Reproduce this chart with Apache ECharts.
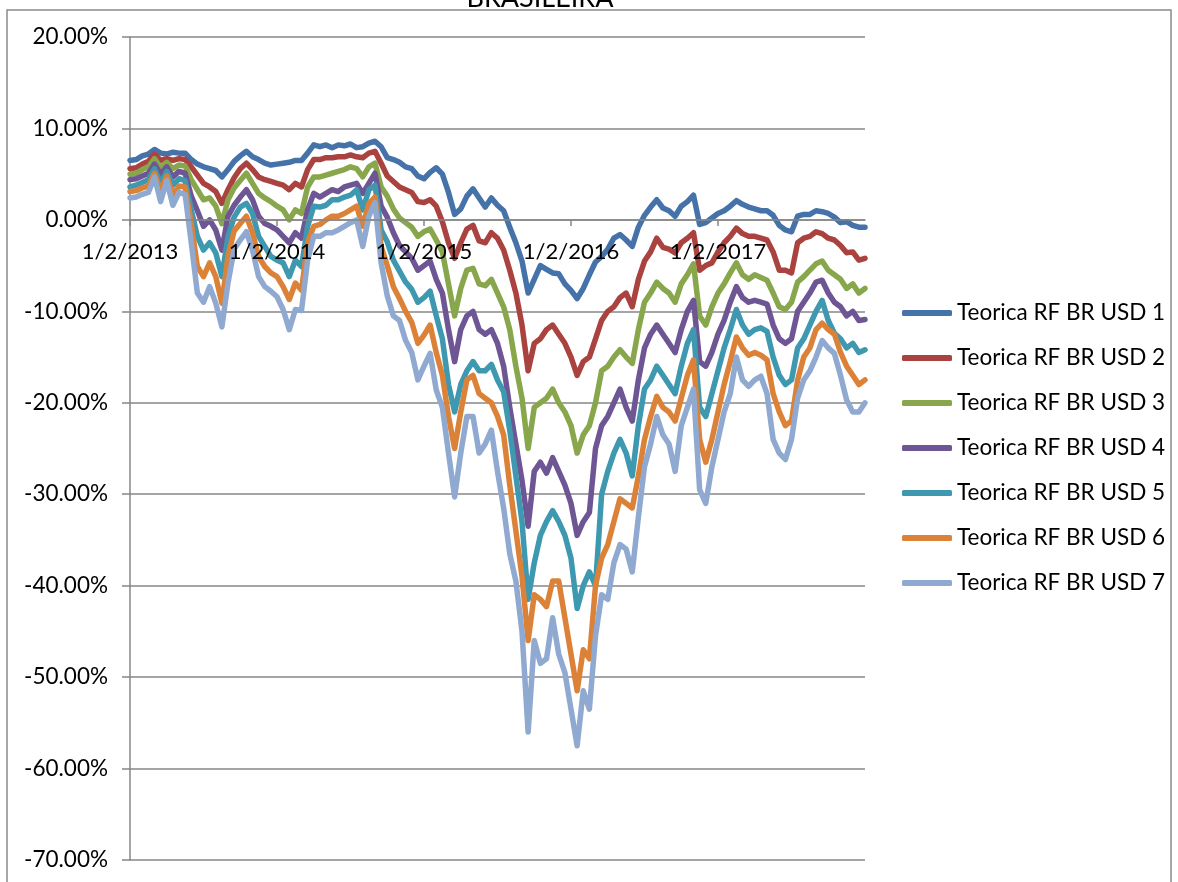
<!DOCTYPE html>
<html>
<head>
<meta charset="utf-8">
<script src="https://cdn.jsdelivr.net/npm/echarts@6/dist/echarts.min.js"></script>
<style>
  html, body { margin: 0; padding: 0; background: #ffffff; }
  #chart { width: 1178px; height: 882px; }
</style>
</head>
<body>
<div id="chart"></div>
<script>
// Semi-monthly observation dates, Jan 2013 to Dec 2017
const dates = [];
for (let y = 2013; y <= 2017; y++) {
  for (let m = 1; m <= 12; m++) {
    dates.push(m + '/2/' + y);
    dates.push(m + '/16/' + y);
  }
}
dates.push('12/29/2017');

const yearTicks = ['1/2/2013', '1/2/2014', '1/2/2015', '1/2/2016', '1/2/2017'];

const seriesNames = [
  'Teorica RF BR USD 1', 'Teorica RF BR USD 2', 'Teorica RF BR USD 3',
  'Teorica RF BR USD 4', 'Teorica RF BR USD 5', 'Teorica RF BR USD 6',
  'Teorica RF BR USD 7'
];

// Cumulative returns in percent
const usd1 = [6.5,6.6,7.0,7.2,7.7,7.3,7.2,7.4,7.3,7.3,6.6,6.1,5.8,5.6,5.4,4.7,5.5,6.4,7.0,7.5,
  6.9,6.6,6.2,6.0,6.1,6.2,6.3,6.5,6.5,7.3,8.2,8.0,8.2,7.9,8.2,8.1,8.3,7.9,8.0,8.4,
  8.6,8.0,6.8,6.6,6.3,5.8,5.6,4.8,4.5,5.2,5.7,5.0,3.0,0.6,1.2,2.6,3.4,2.4,1.4,2.4,
  1.6,1.0,-0.8,-2.5,-4.5,-8.0,-6.5,-5.0,-5.4,-5.8,-5.9,-7.0,-7.7,-8.6,-7.5,-6.0,-4.6,-4.0,-3.2,-2.0,
  -1.6,-2.2,-2.9,-0.8,0.5,1.4,2.2,1.3,1.0,0.4,1.5,2.0,2.7,-0.5,-0.3,0.2,0.7,1.0,1.5,2.1,
  1.7,1.4,1.2,1.0,1.0,0.5,-0.6,-1.1,-1.3,0.4,0.6,0.6,1.0,0.9,0.7,0.3,-0.3,-0.2,-0.6,-0.8,
  -0.8];
const usd2 = [5.6,5.7,6.1,6.4,7.2,6.5,6.7,6.5,6.7,6.6,5.8,4.9,4.0,3.6,3.1,1.8,3.3,4.6,5.6,6.2,
  5.5,4.7,4.4,4.2,4.0,3.8,3.3,4.0,3.6,5.5,6.6,6.6,6.8,6.8,6.9,6.9,7.1,6.9,6.8,7.3,
  7.5,6.2,4.8,4.2,3.6,3.3,3.0,2.0,1.9,2.2,1.5,-0.2,-2.5,-4.2,-2.5,-1.0,-0.6,-2.3,-2.5,-1.4,
  -2.0,-3.3,-5.5,-8.0,-11.5,-16.5,-13.5,-13.0,-12.0,-11.5,-12.5,-13.5,-15.0,-17.0,-15.5,-15.0,-13.0,-11.0,-10.0,-9.5,
  -8.5,-8.0,-9.5,-6.5,-4.5,-3.5,-2.0,-3.0,-3.2,-3.6,-2.5,-2.0,-1.4,-5.5,-5.0,-4.7,-3.5,-2.5,-1.8,-0.9,
  -1.5,-1.8,-1.8,-2.0,-2.2,-3.5,-5.5,-5.5,-5.8,-2.5,-2.0,-1.8,-1.3,-1.5,-2.0,-2.2,-2.8,-3.6,-3.5,-4.4,
  -4.2];
const usd3 = [5.0,5.1,5.5,5.8,6.7,5.7,6.3,5.6,6.0,5.9,4.4,3.3,2.2,2.4,1.5,-0.4,2.2,3.5,4.3,5.1,
  4.0,2.9,2.4,2.0,1.5,1.1,0.0,1.1,0.7,3.6,4.7,4.7,4.9,5.1,5.3,5.5,5.8,5.6,4.7,5.8,
  6.2,3.6,2.6,1.2,0.2,-0.3,-0.8,-1.8,-1.3,-1.0,-2.2,-3.5,-7.0,-10.5,-7.5,-5.5,-5.3,-7.0,-7.2,-6.5,
  -8.0,-9.5,-12.0,-16.0,-19.5,-25.0,-20.5,-20.0,-19.5,-18.5,-20.0,-21.0,-22.5,-25.5,-23.5,-22.5,-20.0,-16.5,-16.0,-15.0,
  -14.2,-15.0,-15.7,-12.0,-9.0,-8.0,-6.8,-7.5,-8.0,-9.0,-7.0,-6.0,-4.8,-10.5,-11.5,-9.5,-8.0,-7.0,-5.8,-4.7,
  -6.0,-6.5,-6.0,-6.3,-6.6,-8.0,-9.5,-9.8,-9.0,-6.8,-6.2,-5.5,-4.8,-4.5,-5.5,-6.0,-6.5,-7.5,-7.0,-8.0,
  -7.5];
const usd4 = [4.4,4.5,4.8,5.1,6.1,5.0,5.8,4.7,5.3,5.1,2.6,1.0,-0.7,0.0,-1.1,-3.3,0.4,1.6,2.5,3.3,
  2.2,0.4,-0.4,-0.7,-1.1,-1.8,-2.5,-1.4,-2.0,1.1,2.9,2.5,2.9,3.3,3.1,3.6,3.8,4.0,2.9,4.0,
  5.1,1.5,0.3,-1.4,-2.8,-3.5,-4.2,-5.5,-5.0,-4.5,-6.5,-8.0,-12.0,-15.5,-12.0,-10.5,-10.0,-12.0,-12.5,-12.0,
  -13.5,-16.0,-20.5,-24.5,-28.5,-33.5,-27.5,-26.5,-27.7,-26.0,-27.5,-29.0,-31.0,-34.5,-33.0,-32.0,-25.0,-22.5,-21.5,-20.0,
  -18.5,-20.5,-22.0,-17.5,-14.0,-12.5,-11.5,-12.5,-13.5,-14.5,-12.0,-10.0,-8.8,-15.5,-16.0,-14.5,-12.5,-11.0,-9.0,-7.3,
  -8.5,-9.0,-8.8,-9.0,-9.2,-11.5,-13.0,-13.5,-13.0,-10.0,-9.0,-8.0,-6.8,-6.6,-8.0,-9.0,-9.5,-10.5,-10.0,-11.0,
  -10.9];
const usd5 = [3.6,3.8,4.1,4.4,5.6,4.0,5.3,3.8,4.5,4.3,1.1,-1.8,-3.3,-2.5,-3.6,-6.2,-1.8,0.3,1.4,1.8,
  0.7,-1.8,-2.9,-4.0,-4.4,-4.7,-6.2,-4.4,-5.1,-0.7,1.5,1.4,1.6,2.2,2.2,2.5,2.7,3.3,1.1,3.3,
  3.8,-1.1,-2.4,-4.4,-5.6,-6.8,-7.6,-9.0,-8.5,-7.8,-10.5,-13.0,-18.0,-21.0,-18.0,-16.5,-15.5,-16.5,-16.5,-15.8,
  -17.5,-18.8,-23.0,-28.0,-33.0,-41.5,-37.5,-34.5,-33.0,-31.8,-33.0,-34.5,-37.0,-42.5,-40.0,-38.5,-40.0,-30.0,-27.5,-25.5,
  -24.0,-25.5,-28.0,-22.5,-18.5,-17.5,-16.0,-17.0,-18.0,-19.0,-16.0,-13.5,-12.0,-20.5,-21.5,-19.0,-16.5,-14.0,-12.0,-9.8,
  -11.5,-12.5,-12.0,-11.8,-12.2,-15.0,-17.0,-18.0,-17.5,-14.0,-13.0,-11.5,-10.0,-8.8,-11.0,-12.4,-13.0,-14.0,-13.5,-14.5,
  -14.2];
const usd6 = [3.1,3.2,3.5,3.7,5.1,3.2,4.8,2.8,3.7,3.6,-0.4,-5.1,-6.2,-4.7,-6.2,-9.1,-4.0,-1.2,-0.4,0.4,
  -1.4,-4.0,-5.1,-5.8,-6.2,-7.3,-8.7,-6.9,-7.7,-2.5,-0.7,-0.5,0.0,0.4,0.4,0.7,1.1,1.5,-0.7,1.8,
  2.5,-2.9,-5.0,-7.3,-8.6,-10.0,-11.2,-13.5,-12.6,-11.5,-14.5,-17.0,-21.5,-25.0,-21.0,-17.5,-17.0,-19.0,-19.5,-20.0,
  -21.5,-23.5,-29.0,-34.0,-39.0,-46.0,-41.0,-41.5,-42.3,-39.5,-39.5,-43.5,-47.5,-51.5,-47.0,-48.0,-40.0,-37.0,-35.5,-33.0,
  -30.5,-31.0,-31.5,-28.0,-24.0,-21.5,-19.3,-20.5,-21.0,-22.0,-19.5,-17.0,-15.3,-24.0,-26.5,-24.0,-21.0,-18.0,-15.5,-12.8,
  -14.0,-14.8,-14.5,-14.8,-15.3,-19.0,-21.0,-22.5,-22.0,-17.5,-15.0,-14.0,-12.0,-11.3,-12.0,-12.5,-14.5,-16.0,-17.0,-18.0,
  -17.5];
const usd7 = [2.4,2.5,2.8,3.0,4.7,2.0,4.3,1.6,3.0,2.8,-2.5,-8.0,-9.0,-7.3,-9.1,-11.7,-6.9,-3.2,-2.2,-1.3,
  -3.3,-6.2,-7.3,-7.8,-8.4,-9.8,-12.0,-9.8,-9.9,-4.4,-1.8,-1.8,-1.4,-1.4,-1.1,-0.7,-0.3,0.0,-2.9,0.4,
  1.9,-4.7,-8.3,-10.5,-11.0,-13.2,-14.5,-17.5,-16.0,-14.6,-18.6,-20.5,-25.5,-30.3,-25.5,-21.5,-21.5,-25.5,-24.5,-23.0,
  -27.5,-31.5,-36.5,-39.5,-45.0,-56.0,-46.0,-48.5,-48.0,-43.5,-47.5,-49.5,-53.5,-57.5,-51.5,-53.5,-45.5,-41.0,-41.5,-37.5,
  -35.5,-36.0,-38.5,-32.5,-27.0,-24.5,-21.5,-23.5,-24.5,-27.5,-22.5,-20.5,-18.5,-29.5,-31.0,-27.0,-24.0,-21.0,-19.0,-15.0,
  -17.5,-18.2,-17.5,-17.1,-19.0,-24.0,-25.5,-26.2,-24.0,-19.5,-17.5,-16.5,-15.0,-13.2,-14.0,-14.6,-17.0,-19.7,-21.0,-21.0,
  -20.0];

const seriesData = [usd1, usd2, usd3, usd4, usd5, usd6, usd7];
const colors = ['#4472A9', '#AA4340', '#88A64B', '#6E5593', '#3E98B0', '#DC8238', '#8FA9D0'];

const FONT = 'Lato, "Open Sans", sans-serif';
const GRID_GRAY = '#878787';

// Plot area geometry
const GRID_TOP = 37, GRID_BOTTOM = 22, Y_MIN = -70, Y_MAX = 20;
const PLOT_H = 882 - GRID_TOP - GRID_BOTTOM;
// Date axis sits on the 0% line: shift it up from the plot bottom
const zeroOffset = -PLOT_H * (0 - Y_MIN) / (Y_MAX - Y_MIN);

const chart = echarts.init(document.getElementById('chart'), null, { renderer: 'canvas' });

const isYearTick = (idx, value) => yearTicks.indexOf(value) >= 0;

chart.setOption({
  animation: false,
  backgroundColor: '#ffffff',
  color: colors,
  graphic: [
    {
      type: 'rect',
      z: -10,
      shape: { x: 7, y: 10, width: 1164, height: 900 },
      style: { fill: 'none', stroke: '#8a8a8a', lineWidth: 1.5 }
    },
    {
      type: 'text',
      x: 540,
      y: -2,
      style: {
        text: 'BRASILEIRA',
        font: '27px ' + FONT,
        fill: '#000000',
        textAlign: 'center',
        textVerticalAlign: 'middle'
      }
    }
  ],
  grid: {
    left: 130, right: 313, top: GRID_TOP, bottom: GRID_BOTTOM,
    containLabel: false, outerBoundsMode: 'none'
  },
  legend: {
    orient: 'vertical',
    left: 897,
    top: 295,
    itemWidth: 50,
    itemHeight: 6,
    itemGap: 19,
    icon: 'roundRect',
    data: seriesNames,
    textStyle: { fontFamily: FONT, fontSize: 22.5, color: '#000000', lineHeight: 26 }
  },
  xAxis: {
    type: 'category',
    data: dates,
    boundaryGap: false,
    position: 'bottom',
    offset: zeroOffset,
    z: 10,
    axisLine: { onZero: false, lineStyle: { color: GRID_GRAY, width: 1.5 } },
    axisTick: { show: true, interval: isYearTick, length: 6, lineStyle: { color: GRID_GRAY, width: 1.5 } },
    axisLabel: {
      interval: isYearTick,
      margin: 21,
      fontFamily: FONT,
      fontSize: 22,
      color: '#000000'
    },
    splitLine: { show: false }
  },
  yAxis: {
    type: 'value',
    min: Y_MIN,
    max: Y_MAX,
    interval: 10,
    axisLine: { show: true, lineStyle: { color: GRID_GRAY, width: 1.5 } },
    axisTick: { show: true, length: 8, lineStyle: { color: GRID_GRAY, width: 1.5 } },
    axisLabel: {
      margin: 22,
      fontFamily: FONT,
      fontSize: 22.5,
      color: '#000000',
      formatter: v => v.toFixed(2) + '%'
    },
    splitLine: { show: true, lineStyle: { color: GRID_GRAY, width: 1.5 } }
  },
  series: seriesNames.map((name, k) => ({
    name: name,
    type: 'line',
    data: seriesData[k],
    symbol: 'none',
    smooth: false,
    lineStyle: { width: 5.5, color: colors[k], cap: 'round', join: 'round' },
    itemStyle: { color: colors[k] },
    emphasis: { disabled: true }
  }))
});
</script>
</body>
</html>
